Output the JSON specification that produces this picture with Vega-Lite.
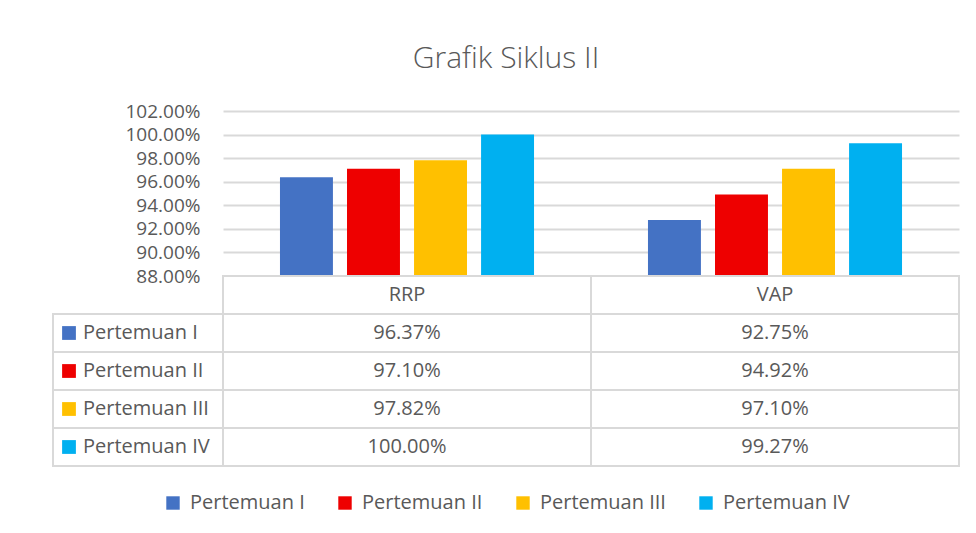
{
  "$schema": "https://vega.github.io/schema/vega-lite/v6.json",
  "padding": {"left": 52, "top": 44, "right": 10, "bottom": 5},
  "background": "white",
  "datasets": {
    "bars": [
      {"category": "RRP", "series": "Pertemuan I", "value": 0.9637},
      {"category": "RRP", "series": "Pertemuan II", "value": 0.9710},
      {"category": "RRP", "series": "Pertemuan III", "value": 0.9782},
      {"category": "RRP", "series": "Pertemuan IV", "value": 1.0000},
      {"category": "VAP", "series": "Pertemuan I", "value": 0.9275},
      {"category": "VAP", "series": "Pertemuan II", "value": 0.9492},
      {"category": "VAP", "series": "Pertemuan III", "value": 0.9710},
      {"category": "VAP", "series": "Pertemuan IV", "value": 0.9927}
    ],
    "cats": [{"category": "RRP"}, {"category": "VAP"}],
    "series": [
      {"series": "Pertemuan I"},
      {"series": "Pertemuan II"},
      {"series": "Pertemuan III"},
      {"series": "Pertemuan IV"}
    ]
  },
  "title": {
    "text": "Grafik Siklus II",
    "fontSize": 30,
    "font": "Open Sans",
    "fontWeight": 300,
    "color": "#595959",
    "anchor": "middle",
    "offset": 28
  },
  "columns": 2,
  "spacing": 0,
  "align": "each",
  "bounds": "flush",
  "resolve": {"scale": {"color": "shared"}},
  "concat": [
    {
      "width": 170,
      "height": 165,
      "data": {"values": [{"blank": ""}]},
      "mark": {"type": "text"},
      "encoding": {"text": {"field": "blank"}}
    },
    {
      "width": 736,
      "height": 165,
      "data": {"name": "bars"},
      "mark": {"type": "bar", "clip": true},
      "encoding": {
        "x": {
          "field": "category",
          "type": "nominal",
          "scale": {"paddingInner": 0, "paddingOuter": 0},
          "axis": null
        },
        "xOffset": {
          "field": "series",
          "type": "nominal",
          "scale": {"domain": ["Pertemuan I", "Pertemuan II", "Pertemuan III", "Pertemuan IV"], "paddingInner": 0.21, "paddingOuter": 0.85}
        },
        "y": {
          "field": "value",
          "type": "quantitative",
          "scale": {"domain": [0.88, 1.02], "zero": false, "nice": false},
          "axis": {
            "format": ".2%",
            "values": [0.88, 0.9, 0.92, 0.94, 0.96, 0.98, 1.0, 1.02],
            "grid": true,
            "gridColor": "#d9d9d9",
            "gridWidth": 2,
            "domain": false,
            "ticks": false,
            "tickSize": 0,
            "labelPadding": 23,
            "labelFontSize": 19,
            "labelColor": "#595959",
            "labelFont": "Open Sans",
            "title": null
          }
        },
        "color": {
          "field": "series",
          "type": "nominal",
          "scale": {
            "domain": ["Pertemuan I", "Pertemuan II", "Pertemuan III", "Pertemuan IV"],
            "range": ["#4472C4", "#EE0000", "#FFC000", "#00B0F0"]
          },
          "legend": {
            "title": null,
            "orient": "bottom",
            "direction": "horizontal",
            "symbolType": "square",
            "symbolSize": 180,
            "symbolStrokeWidth": 0,
            "labelFontSize": 20,
            "labelFont": "Open Sans",
            "labelColor": "#595959",
            "labelOffset": 7,
            "columnPadding": 30,
            "offset": 26
          }
        }
      }
    },
    {
      "width": 170,
      "height": 190,
      "data": {"name": "series"},
      "layer": [
        {
          "mark": {"type": "rect", "fill": "white", "stroke": "#d9d9d9", "strokeWidth": 2},
          "encoding": {
            "y": {
              "field": "series",
              "type": "nominal",
              "scale": {"domain": ["header", "Pertemuan I", "Pertemuan II", "Pertemuan III", "Pertemuan IV"], "paddingInner": 0, "paddingOuter": 0},
              "axis": null
            }
          }
        },
        {
          "mark": {"type": "point", "shape": "square", "filled": true, "size": 190, "opacity": 1},
          "encoding": {
            "x": {"datum": "sym", "type": "nominal", "scale": {"type": "point", "domain": ["sym", "lbl"], "range": [16, 30], "padding": 0}, "axis": null},
            "y": {"field": "series", "type": "nominal", "axis": null},
            "color": {"field": "series", "type": "nominal", "legend": null}
          }
        },
        {
          "mark": {"type": "text", "align": "left", "baseline": "middle", "fontSize": 20, "font": "Open Sans", "color": "#595959"},
          "encoding": {
            "x": {"datum": "lbl", "type": "nominal", "axis": null},
            "y": {"field": "series", "type": "nominal", "axis": null},
            "text": {"field": "series"}
          }
        }
      ]
    },
    {
      "width": 736,
      "height": 190,
      "layer": [
        {
          "data": {"name": "cats"},
          "mark": {"type": "rect", "fill": "white", "stroke": "#d9d9d9", "strokeWidth": 2},
          "encoding": {
            "x": {"field": "category", "type": "nominal", "scale": {"paddingInner": 0, "paddingOuter": 0}, "axis": null},
            "y": {
              "datum": "header",
              "type": "nominal",
              "scale": {"domain": ["header", "Pertemuan I", "Pertemuan II", "Pertemuan III", "Pertemuan IV"], "paddingInner": 0, "paddingOuter": 0},
              "axis": null
            }
          }
        },
        {
          "data": {"name": "cats"},
          "mark": {"type": "text", "align": "center", "baseline": "middle", "fontSize": 20, "font": "Open Sans", "color": "#595959"},
          "encoding": {
            "x": {"field": "category", "type": "nominal", "axis": null},
            "y": {"datum": "header", "type": "nominal", "axis": null},
            "text": {"field": "category"}
          }
        },
        {
          "data": {"name": "bars"},
          "mark": {"type": "rect", "fill": "white", "stroke": "#d9d9d9", "strokeWidth": 2},
          "encoding": {
            "x": {"field": "category", "type": "nominal", "axis": null},
            "y": {"field": "series", "type": "nominal", "axis": null}
          }
        },
        {
          "data": {"name": "bars"},
          "mark": {"type": "text", "align": "center", "baseline": "middle", "fontSize": 20, "font": "Open Sans", "color": "#595959"},
          "encoding": {
            "x": {"field": "category", "type": "nominal", "axis": null},
            "y": {"field": "series", "type": "nominal", "axis": null},
            "text": {"field": "value", "type": "quantitative", "format": ".2%"}
          }
        }
      ]
    }
  ],
  "config": {
    "view": {"stroke": null},
    "font": "Open Sans",
    "legend": {"layout": {"bottom": {"anchor": "middle"}}}
  }
}
